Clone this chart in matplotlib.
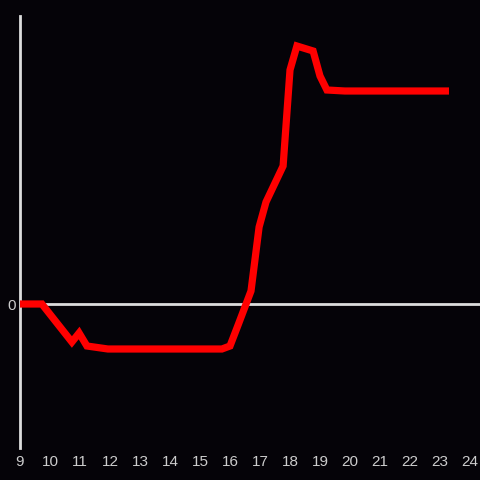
import matplotlib
matplotlib.use("Agg")
import matplotlib.pyplot as plt

# hour of day vs value (relative units, 0 = baseline)
hours = [9.0, 9.73, 10.73, 10.97, 11.23, 11.93, 15.73, 16.0, 16.27, 16.7, 16.97,
         17.2, 17.77, 18.0, 18.23, 18.77, 19.0, 19.23, 19.83, 23.3]
values = [0, 0, -38, -29, -42, -45, -45, -42, -21, 13, 77,
          102, 138, 234, 258, 253, 228, 214, 213, 213]
xticks = list(range(9, 25))

bg = "#050308"
fg = "#dddddd"

fig = plt.figure(figsize=(4.8, 4.8), dpi=100, facecolor=bg)
ax = fig.add_axes([20 / 480, 32 / 480, 460 / 480, 432 / 480], facecolor=bg)

ax.plot(hours, values, color="#ff0000", lw=5.2, solid_joinstyle="miter",
        solid_capstyle="butt", zorder=3)
ax.axhline(0, color=fg, lw=2, zorder=2)

ax.set_xlim(9, 9 + 460 / 30)
ax.set_ylim(-144, 288)

for s in ["top", "right", "bottom"]:
    ax.spines[s].set_visible(False)
ax.spines["left"].set_color(fg)
ax.spines["left"].set_linewidth(2)

ax.set_xticks(xticks)
ax.set_xticklabels([str(t) for t in xticks])
ax.set_yticks([0])
ax.set_yticklabels(["0"])
ax.tick_params(length=0, colors="#cccccc", labelsize=11,
               labelfontfamily="Liberation Sans")
ax.tick_params(axis="x", pad=5)
ax.tick_params(axis="y", pad=3)

fig.savefig("out.png", dpi=100, facecolor=bg)
